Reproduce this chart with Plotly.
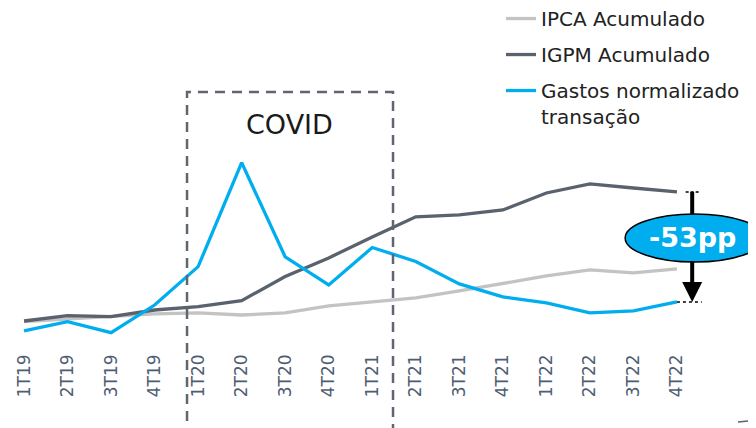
import plotly.graph_objects as go

quarters = ["1T19", "2T19", "3T19", "4T19", "1T20", "2T20", "3T20", "4T20",
            "1T21", "2T21", "3T21", "4T21", "1T22", "2T22", "3T22", "4T22"]
ipca = [4.0, 5.3, 6.3, 7.7, 8.2, 7.2, 8.2, 11.6, 13.5, 15.4, 18.8, 22.2, 26.0, 28.9, 27.5, 29.4]
igpm = [4.3, 6.9, 6.4, 9.6, 11.2, 14.1, 25.7, 34.7, 44.8, 54.5, 55.4, 57.8, 66.0, 70.4, 68.4, 66.5]
gastos = [-0.5, 4.0, -1.3, 12.0, 30.5, 80.6, 35.2, 21.7, 39.7, 33.0, 22.2, 15.9, 13.0, 8.2, 9.2, 13.5]

names = ["IPCA Acumulado", "IGPM Acumulado", "Gastos normalizado<br>transação"]
colors = ["#c3c3c3", "#59626d", "#00aeef"]

W, H = 748, 420          # page has an 8px body margin
PLOT_H = 332
X_RANGE = [-0.368, 16.816]
Y_RANGE = [-4.86, 155.14]

fig = go.Figure()
for name, vals, col in zip(names, [ipca, igpm, gastos], colors):
    fig.add_trace(go.Scatter(
        x=quarters, y=vals, name=name, mode="lines",
        line=dict(color=col, width=3.3), legendgroup=name,
    ))

def xp(i):
    return (i - X_RANGE[0]) / (X_RANGE[1] - X_RANGE[0])

def yp(px):
    # local pixel (from top of figure) -> paper y
    return 1 - px / PLOT_H

last = len(quarters) - 1
diff = round(gastos[-1] - igpm[-1])
ell_y0, ell_y1 = 32.7, 55.9
arrow_x = last + 0.35

shapes = [
    # COVID box
    dict(type="rect", xref="paper", yref="paper",
         x0=xp(3.745), x1=xp(8.477), y0=yp(H + 4), y1=yp(84),
         line=dict(color="#5f6670", width=2.5, dash="10px,7px"), fillcolor="rgba(0,0,0,0)"),
    # top tick at IGPM end
    dict(type="line", xref="x", yref="y", x0=last + 0.2, x1=last + 0.53,
         y0=igpm[-1], y1=igpm[-1], line=dict(color="black", width=1.5, dash="3px,2px")),
    # bottom dashed tick at Gastos end
    dict(type="line", xref="x", yref="y", x0=last, x1=last + 0.57,
         y0=gastos[-1], y1=gastos[-1], line=dict(color="black", width=1.5, dash="3px,3px")),
    # shaft from IGPM end to ellipse
    dict(type="line", xref="x", yref="y", x0=arrow_x, x1=arrow_x,
         y0=igpm[-1], y1=(ell_y0 + ell_y1) / 2, line=dict(color="black", width=4)),
    # ellipse
    dict(type="circle", xref="x", yref="y", x0=13.81, x1=17.0, y0=ell_y0, y1=ell_y1,
         fillcolor="#00aeef", line=dict(color="black", width=1.5)),
    # small decorative line bottom right
    dict(type="line", xref="paper", yref="paper", x0=730 / W, x1=1.0,
         y0=yp(414), y1=yp(412), line=dict(color="#59626d", width=1.5)),
]

annotations = [
    dict(text="COVID", xref="paper", yref="paper", x=xp(6.1), y=yp(117),
         showarrow=False, font=dict(size=27, color="#1a1a1a", family="DejaVu Sans"),
         xanchor="center", yanchor="middle"),
    dict(text="", x=arrow_x, y=gastos[-1], ax=arrow_x, ay=ell_y0 + 1,
         xref="x", yref="y", axref="x", ayref="y", showarrow=True,
         arrowhead=2, arrowwidth=4, arrowsize=1.0, arrowcolor="black",
         standoff=0, startstandoff=0),
    dict(text=f"<b>{diff}pp</b>", x=arrow_x, y=(ell_y0 + ell_y1) / 2, xref="x", yref="y",
         showarrow=False, font=dict(size=27, color="white", family="DejaVu Sans"),
         xanchor="center", yanchor="middle"),
]

fig.update_layout(
    width=W, height=H,
    margin=dict(l=0, r=0, t=0, b=H - PLOT_H, autoexpand=False),
    paper_bgcolor="white", plot_bgcolor="white",
    font=dict(family="DejaVu Sans", color="#222222"),
    xaxis=dict(range=X_RANGE, showgrid=False, zeroline=False, showline=False,
               tickangle=-90, tickfont=dict(size=17, color="#4f5d73"),
               ticks="", ticklabelstandoff=10, automargin=False),
    yaxis=dict(range=Y_RANGE, visible=False, showgrid=False, zeroline=False),
    legend=dict(x=493 / W, y=1.027, xanchor="left", yanchor="top",
                font=dict(size=20, color="#222222"), bgcolor="rgba(0,0,0,0)",
                tracegroupgap=7, itemwidth=30, valign="top", traceorder="grouped"),
    shapes=shapes, annotations=annotations,
)

fig.write_html("out.html")
